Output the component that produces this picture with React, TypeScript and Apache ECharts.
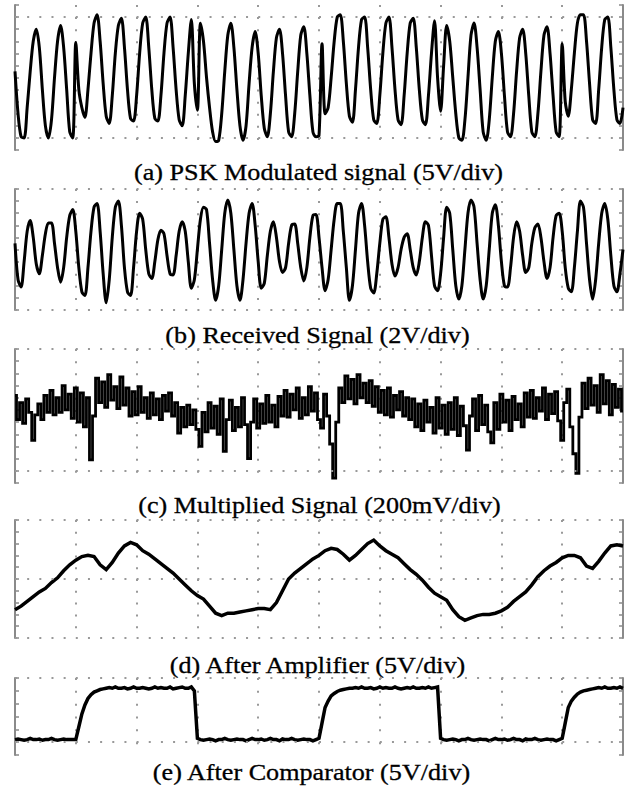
import React, { useEffect, useRef } from "react";
import * as echarts from "echarts";

// ---- captions ----
const CAPTIONS = [
  "(a) PSK Modulated signal (5V/div)",
  "(b) Received Signal (2V/div)",
  "(c) Multiplied Signal (200mV/div)",
  "(d) After Amplifier (5V/div)",
  "(e) After Comparator (5V/div)",
];

// ---- traces (vertical position in minor-tick units, sampled along the time axis) ----
const SIG_A = [
  6.5, 3.0, 1.1, 1.0, 3.5, 6.5, 9.0, 10.0, 8.5, 5.0,
  2.0, 1.0, 2.5, 6.0, 9.0, 10.3, 8.5, 5.0, 1.5, 1.0,
  8.9, 5.0, 3.5, 2.7, 5.0, 8.0, 10.5, 11.2, 9.0, 5.5,
  2.8, 2.2, 4.5, 8.0, 10.3, 10.9, 8.5, 5.0, 2.6, 2.4,
  4.5, 8.0, 10.5, 11.0, 8.5, 5.0, 2.6, 2.4, 4.5, 8.0,
  10.5, 11.0, 8.5, 5.0, 2.5, 2.0, 4.5, 8.0, 10.8, 5.5,
  3.3, 10.5, 9.0, 6.0, 3.5, 1.5, 0.7, 0.8, 3.0, 6.5,
  9.5, 10.5, 8.5, 5.0, 2.0, 0.8, 2.0, 5.5, 8.5, 9.8,
  8.0, 4.5, 1.8, 1.1, 3.0, 6.5, 9.3, 10.0, 8.0, 4.5,
  1.5, 1.1, 3.0, 6.5, 9.5, 10.2, 8.0, 4.5, 1.5, 1.1,
  1.2, 8.8, 3.0, 3.5, 6.0, 9.0, 11.0, 11.2, 9.0, 5.5,
  2.8, 2.3, 5.0, 8.5, 10.8, 11.0, 8.5, 5.0, 2.5, 2.2,
  4.5, 8.0, 10.5, 11.0, 8.5, 5.0, 2.5, 2.1, 4.5, 8.0,
  10.5, 10.9, 8.5, 5.0, 2.5, 2.1, 4.5, 8.0, 10.7, 6.0,
  3.2, 7.0, 10.3, 9.0, 6.0, 3.0, 1.0, 0.8, 2.5, 6.0,
  9.5, 10.5, 8.5, 5.0, 1.5, 0.8, 2.5, 6.0, 9.0, 9.8,
  8.0, 4.5, 1.5, 1.1, 3.0, 6.5, 9.3, 10.0, 8.0, 4.5,
  1.5, 1.1, 3.0, 6.5, 9.5, 10.2, 8.0, 4.5, 1.5, 1.1,
  8.8, 4.0, 2.8, 5.0, 8.0, 10.5, 11.2, 11.2, 9.0, 5.5,
  2.5, 2.2, 5.0, 8.5, 10.8, 11.0, 8.5, 5.0, 2.5, 2.2,
  3.5,
];

const SIG_B = [
  5.5, 2.5, 1.9, 4.0, 6.5, 7.4, 6.0, 3.8, 3.0, 4.5,
  6.3, 7.2, 7.2, 5.5, 3.5, 2.3, 3.5, 6.0, 7.8, 8.3,
  6.5, 3.5, 1.5, 1.2, 3.5, 6.5, 8.5, 8.8, 6.5, 3.0,
  0.6, 2.5, 6.0, 8.5, 9.0, 7.0, 3.5, 1.5, 1.2, 3.5,
  6.5, 8.0, 7.5, 5.0, 3.0, 2.6, 4.0, 5.8, 6.6, 6.3,
  4.5, 3.0, 2.9, 4.5, 6.5, 7.3, 6.5, 4.0, 1.8, 2.5,
  5.0, 7.5, 8.5, 8.3, 5.5, 2.5, 0.8, 2.0, 5.0, 8.0,
  9.1, 8.0, 5.0, 2.0, 0.8, 2.5, 5.5, 8.0, 8.8, 7.0,
  4.0, 1.8, 2.2, 4.5, 6.5, 7.3, 6.0, 4.0, 3.1, 3.5,
  5.5, 7.0, 7.1, 5.5, 3.5, 2.4, 3.5, 6.0, 7.8, 7.9,
  6.0, 3.5, 1.6, 2.5, 5.0, 7.5, 8.8, 8.8, 6.5, 3.5,
  0.8, 2.0, 5.0, 8.0, 8.8, 7.0, 4.0, 1.8, 1.4, 3.0,
  5.5, 7.5, 7.7, 6.0, 3.8, 2.8, 3.5, 5.0, 6.0, 6.3,
  5.0, 3.5, 2.9, 4.0, 6.0, 7.3, 7.0, 4.5, 2.0, 1.6,
  3.0, 6.0, 8.5, 8.0, 5.0, 2.0, 0.9, 2.0, 5.0, 8.0,
  9.1, 8.5, 5.5, 2.5, 0.9, 2.0, 5.0, 8.0, 8.7, 7.0,
  4.0, 2.0, 1.9, 3.5, 6.0, 7.3, 6.5, 4.5, 3.1, 3.5,
  5.5, 6.8, 7.1, 6.0, 4.0, 2.6, 3.5, 6.0, 7.8, 8.0,
  6.5, 3.5, 1.8, 1.5, 3.5, 6.5, 9.0, 8.5, 5.5, 2.5,
  0.9, 2.5, 5.5, 8.0, 8.8, 7.5, 4.5, 2.0, 1.5, 3.0,
  5.0,
];

const SIG_C = [
  7.2, 5.2, 6.6, 4.9, 6.9, 5.8, 3.5, 5.6, 6.5, 5.2,
  7.2, 5.8, 7.6, 5.6, 7.0, 5.8, 8.0, 6.0, 7.3, 5.3,
  7.8, 5.0, 7.4, 4.6, 7.0, 1.9, 5.5, 8.6, 6.6, 8.3,
  6.2, 8.9, 6.8, 7.9, 6.1, 8.7, 6.4, 7.8, 5.5, 7.5,
  5.6, 7.9, 5.8, 7.0, 5.3, 7.4, 5.6, 6.9, 5.2, 7.2,
  5.9, 7.4, 5.5, 6.6, 4.1, 6.2, 4.6, 6.4, 4.8, 6.0,
  4.4, 3.0, 5.8, 4.2, 6.6, 4.5, 6.3, 4.0, 6.9, 2.6,
  5.2, 6.8, 4.3, 6.2, 4.6, 7.0, 4.8, 2.0, 5.0, 6.9,
  4.5, 6.5, 4.9, 7.2, 5.0, 6.4, 4.6, 7.1, 5.5, 7.6,
  5.4, 7.3, 6.0, 7.8, 5.3, 7.0, 5.6, 7.9, 5.9, 7.4,
  5.2, 4.5, 7.3, 5.5, 3.2, 0.4, 5.0, 7.8, 6.6, 8.8,
  6.9, 8.5, 6.5, 8.9, 7.0, 8.2, 6.6, 8.4, 6.3, 7.9,
  5.8, 7.6, 5.6, 7.8, 5.4, 7.2, 6.0, 7.5, 5.5, 7.0,
  5.2, 6.9, 4.6, 6.5, 4.3, 6.8, 5.0, 6.2, 4.1, 7.0,
  4.5, 6.4, 4.0, 6.6, 4.4, 7.0, 3.9, 6.3, 4.7, 2.7,
  5.5, 6.9, 4.3, 7.2, 4.8, 6.4, 4.2, 3.3, 6.6, 4.4,
  7.3, 5.0, 6.8, 4.3, 7.1, 5.2, 6.5, 4.6, 7.4, 5.4,
  7.6, 5.3, 7.0, 5.9, 7.8, 5.2, 7.3, 5.7, 7.5, 5.1,
  3.5, 6.6, 7.7, 4.6, 2.4, 0.8, 5.4, 8.2, 6.1, 8.6,
  6.4, 8.0, 5.8, 8.9, 6.5, 8.4, 5.6, 8.1, 6.2, 7.7,
  5.9,
];

const SIG_D = [
  2.4, 2.7, 3.1, 3.5, 3.9, 4.2, 4.7, 5.1, 5.7, 6.2,
  6.6, 6.9, 7.0, 6.9, 6.2, 5.8, 6.4, 7.2, 7.8, 8.1,
  7.9, 7.4, 7.1, 6.7, 6.3, 5.9, 5.5, 5.0, 4.5, 4.0,
  3.6, 3.3, 2.7, 2.1, 1.9, 2.1, 2.1, 2.2, 2.3, 2.4,
  2.5, 2.5, 2.4, 3.0, 4.0, 5.0, 5.5, 5.9, 6.3, 6.7,
  7.0, 7.4, 7.6, 7.5, 7.1, 6.6, 7.0, 7.5, 8.0, 8.3,
  7.8, 7.4, 7.1, 6.8, 6.3, 5.8, 5.4, 4.9, 4.3, 3.8,
  3.5, 3.2, 2.4, 1.8, 1.5, 1.7, 1.9, 2.0, 2.0, 2.1,
  2.3, 2.6, 3.1, 3.5, 3.9, 4.5, 5.2, 5.7, 6.1, 6.4,
  6.8, 7.0, 7.0, 6.8, 6.1, 5.9, 6.5, 7.2, 7.8, 7.9,
  7.8,
];

const SIG_E = [
  1.2, 1.25, 1.2, 1.15, 1.2, 1.3, 1.2, 1.2, 1.25, 1.15,
  1.2, 1.2, 1.3, 1.2, 1.15, 1.2, 1.25, 1.2, 1.2, 1.2,
  1.2, 2.2, 3.2, 3.9, 4.4, 4.7, 4.9, 5.0, 5.1, 5.15,
  5.2, 5.25, 5.2, 5.3, 5.2, 5.2, 5.25, 5.15, 5.2, 5.3,
  5.2, 5.2, 5.25, 5.2, 5.15, 5.2, 5.3, 5.2, 5.25, 5.2,
  5.2, 5.3, 5.15, 5.2, 5.25, 5.3, 5.2, 5.2, 5.3, 5.0,
  1.3, 1.2, 1.15, 1.2, 1.25, 1.2, 1.1, 1.2, 1.2, 1.3,
  1.2, 1.15, 1.2, 1.25, 1.2, 1.2, 1.1, 1.2, 1.3, 1.2,
  1.2, 1.25, 1.15, 1.2, 1.3, 1.2, 1.2, 1.1, 1.25, 1.2,
  1.2, 1.3, 1.2, 1.15, 1.2, 1.25, 1.2, 1.2, 1.1, 1.2,
  1.3, 2.5, 3.7, 4.2, 4.6, 4.8, 4.95, 5.05, 5.1, 5.15,
  5.2, 5.2, 5.25, 5.2, 5.3, 5.2, 5.2, 5.25, 5.15, 5.2,
  5.3, 5.2, 5.25, 5.2, 5.2, 5.3, 5.2, 5.15, 5.2, 5.25,
  5.2, 5.3, 5.2, 5.2, 5.25, 5.2, 5.3, 5.2, 5.25, 5.3,
  1.3, 1.2, 1.15, 1.2, 1.25, 1.2, 1.1, 1.2, 1.2, 1.3,
  1.2, 1.15, 1.2, 1.25, 1.2, 1.2, 1.1, 1.2, 1.3, 1.2,
  1.2, 1.25, 1.15, 1.2, 1.3, 1.2, 1.2, 1.1, 1.25, 1.2,
  1.2, 1.3, 1.2, 1.15, 1.2, 1.25, 1.2, 1.2, 1.1, 1.2,
  1.3, 2.5, 3.7, 4.2, 4.5, 4.75, 4.9, 5.0, 5.05, 5.1,
  5.15, 5.2, 5.25, 5.2, 5.3, 5.2, 5.2, 5.25, 5.2, 5.3,
  5.2,
];

const SIGNALS = [SIG_A, SIG_B, SIG_C, SIG_D, SIG_E];
// vertical range of each panel (minor-tick units)
const Y_MAX = [12, 10, 11, 10, 6];
// levels of the dense dotted horizontal grid lines in each panel
const H_DOTS = [[11, 1], [10, 0], [11, 1], [10, 5, 0], [6, 1]];
const STEPPED = [false, false, true, false, false];
const SMOOTH = [0.3, 0.3, 0, 0, 0];
const LINE_W = [3, 3, 2.8, 3.5, 3.5];

// layout (pixels)
const PANEL_TOP = [5, 189, 349, 520, 678];
const PANEL_H = [145, 121, 134, 118, 77];
const PANEL_LEFT = 15;
const PANEL_W = 608;
const CAP_X = [318.5, 317.5, 319.5, 317.5, 311.5];
const CAP_Y = [172, 335, 505, 665, 772];
const DOT = "#999999";
const FRAME = "#8a8a8a";

export default function App() {
  const ref = useRef<HTMLDivElement>(null);
  useEffect(() => {
    if (!ref.current) return;
    const chart = echarts.init(ref.current, null, { renderer: "svg" });
    const grid: any[] = [];
    const xAxis: any[] = [];
    const yAxis: any[] = [];
    const series: any[] = [];
    SIGNALS.forEach((sig, k) => {
      const n = sig.length - 1;
      const unitPx = PANEL_H[k] / Y_MAX[k];
      grid.push({ left: PANEL_LEFT, width: PANEL_W, top: PANEL_TOP[k], height: PANEL_H[k] });
      xAxis.push({
        type: "value",
        gridIndex: k,
        min: 0,
        max: n,
        interval: n / 10,
        axisLine: { show: false },
        axisTick: { show: false },
        axisLabel: { show: false },
        splitLine: {
          show: true,
          lineStyle: { color: DOT, width: 2, type: [2, unitPx - 2] },
        },
      });
      ["left", "right"].forEach((pos) => {
        yAxis.push({
          type: "value",
          gridIndex: k,
          position: pos,
          min: 0,
          max: Y_MAX[k],
          interval: 1,
          axisLine: { show: true, onZero: false, lineStyle: { color: FRAME, width: 2 } },
          axisTick: { show: true, inside: true, length: 4, lineStyle: { color: FRAME, width: 1.5 } },
          axisLabel: { show: false },
          splitLine: { show: false },
        });
      });
      series.push({
        type: "line",
        xAxisIndex: k,
        yAxisIndex: 2 * k,
        data: sig.map((v, i) => [i, v]),
        step: STEPPED[k] ? "middle" : false,
        smooth: SMOOTH[k] > 0 ? SMOOTH[k] : false,
        symbol: "none",
        silent: true,
        lineStyle: { color: "#000000", width: LINE_W[k], join: "miter" },
        markLine: {
          silent: true,
          symbol: ["none", "none"],
          label: { show: false },
          emphasis: { disabled: true },
          lineStyle: { color: DOT, width: 2, type: [2, PANEL_W / 50 - 2] },
          data: H_DOTS[k].map((v) => ({ yAxis: v })),
        },
      });
    });
    const graphic = CAPTIONS.map((t, k) => ({
      type: "text",
      x: CAP_X[k],
      y: CAP_Y[k],
      scaleX: 1.09,
      silent: true,
      style: {
        text: t,
        fontSize: 24,
        fontFamily: "Liberation Serif",
        fill: "#000000",
        stroke: "#000000",
        lineWidth: 0.3,
        align: "center",
        textAlign: "center",
        verticalAlign: "middle",
        textVerticalAlign: "middle",
      },
    }));
    chart.setOption({
      animation: false,
      grid,
      xAxis,
      yAxis,
      series,
      graphic,
    });
    return () => chart.dispose();
  }, []);
  return (
    <div
      ref={ref}
      style={{ position: "fixed", left: 0, top: 0, width: 632, height: 787, background: "#ffffff" }}
    />
  );
}
